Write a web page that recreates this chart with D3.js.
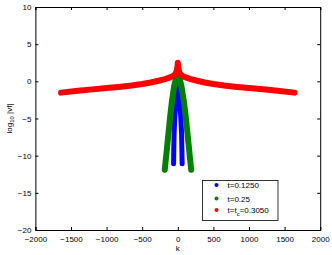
<!DOCTYPE html>
<html>
<head>
<meta charset="utf-8">
<script src="https://cdn.jsdelivr.net/npm/d3@7"></script>
<style>
  body { margin: 0; background: #fff; }
  svg text { font-family: "Liberation Sans", Arial, sans-serif; font-size: 8px; fill: #000; }
</style>
</head>
<body>
<div id="graf"></div>
<script>
// Datos (k, log10 |vf|)
const kBlue   = [-59, -56, -52, -42, -25, -12, 0, 12, 25, 42, 53, 57, 61]
const logBlue = [-11.1, -9.0, -7.0, -4.8, -2.5, -0.8, 0.9, -0.8, -2.5, -4.8, -7.0, -9.0, -11.1]

const kGreen   = [-183, -153, -131, -106, -80, -50, -25, 0, 25, 50, 82, 110, 136, 158, 188]
const logGreen = [-11.9, -9.1, -7.0, -4.6, -2.5, -0.6, 0.4, 0.9, 0.4, -0.6, -2.5, -4.6, -7.0, -9.1, -11.9]

const kRed   = [-1640, -1400, -1200, -1000, -800, -650, -500, -380, -270, -180, -110, -60, -30, -12, -4, 0,
                4, 12, 30, 60, 110, 180, 270, 380, 500, 650, 800, 1000, 1200, 1400, 1640]
const logRed = [-1.52, -1.28, -1.08, -0.9, -0.72, -0.56, -0.36, -0.15, 0.08, 0.3, 0.52, 0.75, 1.05, 1.5, 2.0, 2.5,
                2.0, 1.5, 1.05, 0.75, 0.52, 0.3, 0.08, -0.15, -0.36, -0.56, -0.72, -0.9, -1.08, -1.28, -1.52]

const xTicks = [-2000, -1500, -1000, -500, 0, 500, 1000, 1500, 2000]
const yTicks = [-20, -15, -10, -5, 0, 5, 10]

const series = [
  { name: "t=0.1250", k: kBlue, v: logBlue, color: "#0000ff", w: 5 },
  { name: "t=0.25", k: kGreen, v: logGreen, color: "#008000", w: 6 },
  { name: "t=t", sub: "c", rest: "=0.3050", k: kRed, v: logRed, color: "#ff0000", w: 6 }
]

const ancho = 332, alto = 255
const margin = { top: 7, right: 11.8, bottom: 25, left: 35.4 }

const svg = d3.select("#graf").append("svg")
  .attr("width", ancho).attr("height", alto)

const x = d3.scaleLinear().domain([-2000, 2000]).range([margin.left, ancho - margin.right])
const y = d3.scaleLinear().domain([-20, 10]).range([alto - margin.bottom, margin.top])

const fmt = (d) => (d < 0 ? "\u2212" + Math.abs(d) : "" + d)

// Ejes tipo MATLAB, ticks hacia adentro
svg.append("g").attr("transform", `translate(0,${y(-20)})`)
  .call(d3.axisBottom(x).tickValues(xTicks).tickSize(-3).tickPadding(6).tickFormat(fmt))
svg.append("g").attr("transform", `translate(0,${y(10)})`)
  .call(d3.axisTop(x).tickValues(xTicks).tickSize(-3).tickFormat(""))
svg.append("g").attr("transform", `translate(${x(-2000)},0)`)
  .call(d3.axisLeft(y).tickValues(yTicks).tickSize(-3).tickPadding(4).tickFormat(fmt))
svg.append("g").attr("transform", `translate(${x(2000)},0)`)
  .call(d3.axisRight(y).tickValues(yTicks).tickSize(-3).tickFormat(""))

svg.selectAll(".domain").attr("stroke", "#000").attr("stroke-width", 1)
svg.selectAll(".tick line").attr("stroke", "#000")
svg.selectAll(".tick text").style("font-size", "8px")

// Curvas (marcadores densos -> trazo grueso)
const line = d3.line().x((d) => x(d[0])).y((d) => y(d[1]))
series.forEach((s) => {
  svg.append("path")
    .datum(s.k.map((k, i) => [k, s.v[i]]))
    .attr("d", line)
    .attr("fill", "none")
    .attr("stroke", s.color)
    .attr("stroke-width", s.w)
    .attr("stroke-linecap", "round")
    .attr("stroke-linejoin", "round")
})

// Etiquetas de ejes
svg.append("text").attr("x", x(0)).attr("y", 251).attr("text-anchor", "middle").text("k")
const yl = svg.append("text")
  .attr("transform", `translate(12,${(y(-20) + y(10)) / 2}) rotate(-90)`)
  .attr("text-anchor", "middle")
yl.append("tspan").text("log")
yl.append("tspan").attr("dy", 2).style("font-size", "6px").text("10")
yl.append("tspan").attr("dy", -2).text(" |vf|")

// Leyenda
const leg = svg.append("g")
leg.append("rect").attr("x", 202.5).attr("y", 180.5).attr("width", 75.5).attr("height", 40)
  .attr("fill", "#fff").attr("stroke", "#000").attr("stroke-width", 0.8)
const rows = [185, 198.5, 210]
series.forEach((s, i) => {
  leg.append("circle").attr("cx", 216.5).attr("cy", rows[i]).attr("r", 2).attr("fill", s.color)
  const t = leg.append("text").attr("x", 227.5).attr("y", rows[i] + 3)
  t.append("tspan").text(s.name)
  if (s.sub) {
    t.append("tspan").attr("dy", 3).style("font-size", "6px").text(s.sub)
    t.append("tspan").attr("dy", -3).text(s.rest)
  }
})
</script>
</body>
</html>
